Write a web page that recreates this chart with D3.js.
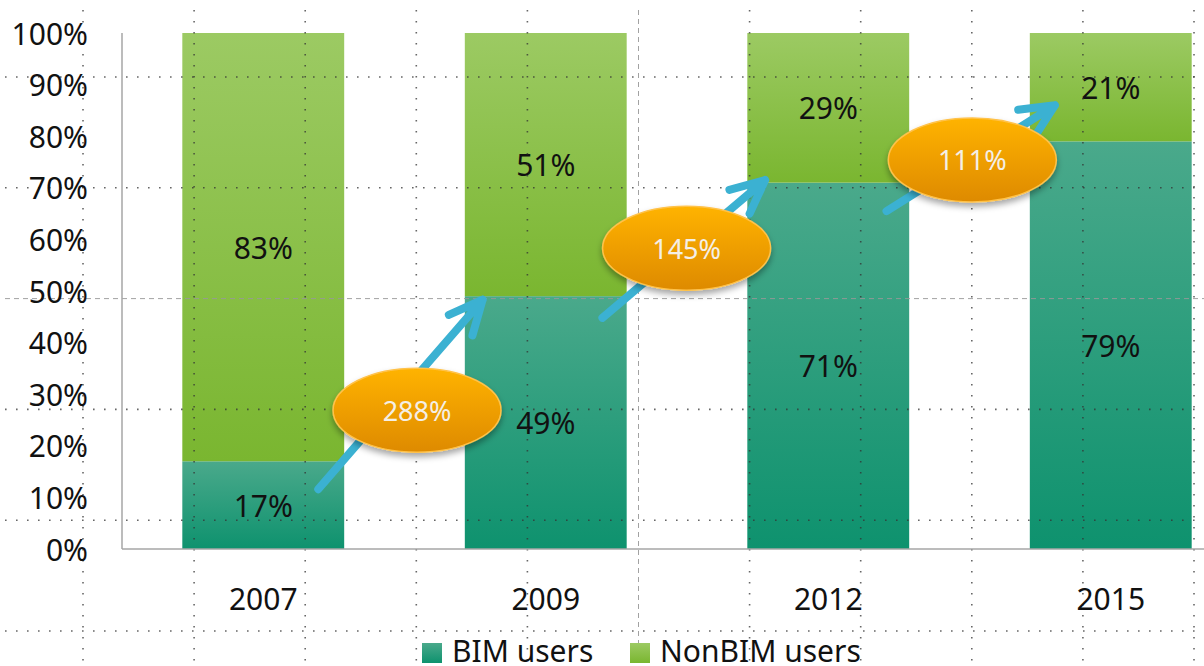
<!DOCTYPE html>
<html>
<head>
<meta charset="utf-8">
<script src="https://cdn.jsdelivr.net/npm/d3@7/dist/d3.min.js"></script>
<style>
  body { margin: 0; background: #fff; }
  text { font-family: "Noto Sans", sans-serif; }
</style>
</head>
<body>
<div id="chart"></div>
<script>
// data
var years = ["2007", "2009", "2012", "2015"];
var bimUsers = [17, 49, 71, 79];
var nonBimUsers = [83, 51, 29, 21];
var yTicks = [0, 10, 20, 30, 40, 50, 60, 70, 80, 90, 100];
var seriesNames = ["BIM users", "NonBIM users"];

// growth annotations (arrow from one year to the next, in data units)
var growthLabels = ["288%", "145%", "111%"];
var arrowFrom = [{ year: "2007", f: 0.84, v: 11.6 }, { year: "2009", f: 0.85, v: 44.8 }, { year: "2012", f: 0.86, v: 65.5 }];
var arrowTo = [{ year: "2009", f: 0.11, v: 48.3 }, { year: "2012", f: 0.11, v: 71.5 }, { year: "2015", f: 0.155, v: 86.0 }];
var ovalAt = [{ year: "2007", f: 1.45, v: 26.9 }, { year: "2009", f: 1.37, v: 58.3 }, { year: "2012", f: 1.39, v: 75.4 }];

var svgWidth = 1204;
var svgHeight = 666;

var svg = d3.select("#chart")
  .append("svg")
  .attr("width", svgWidth)
  .attr("height", svgHeight);

var defs = svg.append("defs");

function vGrad(id, top, bottom) {
  var g = defs.append("linearGradient")
    .attr("id", id)
    .attr("x1", 0).attr("y1", 0).attr("x2", 0).attr("y2", 1);
  g.append("stop").attr("offset", "0%").attr("stop-color", top);
  g.append("stop").attr("offset", "100%").attr("stop-color", bottom);
}
vGrad("gBim", "#4aa98b", "#0e926e");
vGrad("gNon", "#9cca63", "#7ab630");
vGrad("gOval", "#ffb300", "#de8a00");

var shadow = defs.append("filter").attr("id", "shadow")
  .attr("x", "-20%").attr("y", "-20%").attr("width", "140%").attr("height", "160%");
shadow.append("feDropShadow")
  .attr("dx", 0).attr("dy", 4).attr("stdDeviation", 3)
  .attr("flood-color", "#000").attr("flood-opacity", 0.35);

// scales
var x = d3.scaleBand()
  .domain(years)
  .range([122, 1252])
  .paddingInner(0.427)
  .paddingOuter(0.2135);

var y = d3.scaleLinear()
  .domain([0, 100])
  .range([549, 33]);

var colors = ["url(#gBim)", "url(#gNon)"];

// stacked segments
var rows = years.map(function(yr, i) {
  return { year: yr, bim: bimUsers[i], non: nonBimUsers[i] };
});
var stack = d3.stack().keys(["bim", "non"])(rows);

var barGroup = svg.append("g");
stack.forEach(function(layer, li) {
  barGroup.selectAll(".seg" + li)
    .data(layer)
    .enter()
    .append("rect")
    .attr("x", d => x(d.data.year))
    .attr("y", d => y(d[1]))
    .attr("width", x.bandwidth())
    .attr("height", d => y(d[0]) - y(d[1]))
    .attr("fill", colors[li]);
});

// segment labels
stack.forEach(function(layer) {
  barGroup.selectAll(null)
    .data(layer)
    .enter()
    .append("text")
    .attr("x", d => x(d.data.year) + x.bandwidth() / 2)
    .attr("y", d => y((d[0] + d[1]) / 2))
    .attr("text-anchor", "middle")
    .attr("dominant-baseline", "central")
    .style("font-size", "30px")
    .attr("fill", "#111")
    .text(d => (d[1] - d[0]) + "%");
});

// slide guide grid (dotted), drawn on top like the reference
var guides = svg.append("g").attr("pointer-events", "none");
var gx = d3.range(83, 1204, 111.1);
var gy = d3.range(77, 666, 110.8);
gx.forEach(function(v, i) {
  var center = i === 5;
  guides.append("line")
    .attr("x1", v).attr("x2", v)
    .attr("y1", 10).attr("y2", 666)
    .attr("stroke", center ? "#999" : "#333")
    .attr("stroke-width", center ? 1 : 1.6)
    .attr("stroke-dasharray", center ? "5,4" : "1.6,9.4")
    .attr("opacity", center ? 0.9 : 0.75);
});
gy.forEach(function(v, i) {
  var center = i === 2;
  guides.append("line")
    .attr("x1", 5).attr("x2", 1204)
    .attr("y1", v).attr("y2", v)
    .attr("stroke", center ? "#999" : "#333")
    .attr("stroke-width", center ? 1 : 1.6)
    .attr("stroke-dasharray", center ? "5,4" : "1.6,9.4")
    .attr("opacity", center ? 0.9 : 0.75);
});

// axes lines
svg.append("line")
  .attr("x1", 122).attr("x2", 122)
  .attr("y1", y(100)).attr("y2", y(0))
  .attr("stroke", "#a6a6a6").attr("stroke-width", 1.5);
svg.append("line")
  .attr("x1", 122).attr("x2", svgWidth)
  .attr("y1", y(0)).attr("y2", y(0))
  .attr("stroke", "#a6a6a6").attr("stroke-width", 1.5);

// y labels
svg.append("g").selectAll("text")
  .data(yTicks)
  .enter()
  .append("text")
  .attr("x", 88)
  .attr("y", d => y(d))
  .attr("text-anchor", "end")
  .attr("dominant-baseline", "central")
  .style("font-size", "30px")
  .attr("fill", "#111")
  .text(d => d + "%");

// x labels
svg.append("g").selectAll("text")
  .data(years)
  .enter()
  .append("text")
  .attr("x", d => x(d) + x.bandwidth() / 2)
  .attr("y", 598)
  .attr("text-anchor", "middle")
  .attr("dominant-baseline", "central")
  .style("font-size", "30px")
  .attr("fill", "#111")
  .text(d => d);

// growth arrows + ovals
function px(p) { return x(p.year) + p.f * x.bandwidth(); }
var annot = svg.append("g");
growthLabels.forEach(function(lbl, i) {
  var x0 = px(arrowFrom[i]), y0 = y(arrowFrom[i].v);
  var x1 = px(arrowTo[i]), y1 = y(arrowTo[i].v);
  var ang = Math.atan2(y0 - y1, x0 - x1);
  var len = 37, spread = 25 * Math.PI / 180;
  var a1 = [x1 + len * Math.cos(ang + spread), y1 + len * Math.sin(ang + spread)];
  var a2 = [x1 + len * Math.cos(ang - spread), y1 + len * Math.sin(ang - spread)];
  var path = d3.path();
  path.moveTo(x0, y0); path.lineTo(x1, y1);
  path.moveTo(a1[0], a1[1]); path.lineTo(x1, y1); path.lineTo(a2[0], a2[1]);
  annot.append("path")
    .attr("d", path.toString())
    .attr("fill", "none")
    .attr("stroke", "#3bb1d2")
    .attr("stroke-width", 8)
    .attr("stroke-linecap", "round")
    .attr("stroke-linejoin", "round");

  var cx = px(ovalAt[i]), cy = y(ovalAt[i].v);
  annot.append("ellipse")
    .attr("cx", cx).attr("cy", cy)
    .attr("rx", 84).attr("ry", 42)
    .attr("fill", "url(#gOval)")
    .attr("stroke", "#ffc24a")
    .attr("stroke-width", 1.5)
    .attr("filter", "url(#shadow)");
  annot.append("text")
    .attr("x", cx).attr("y", cy)
    .attr("text-anchor", "middle")
    .attr("dominant-baseline", "central")
    .style("font-size", "27px")
    .attr("fill", "#f4efe6")
    .text(lbl);
});

// legend
var legend = svg.append("g");
var legendX = [422, 630];
seriesNames.forEach(function(name, i) {
  legend.append("rect")
    .attr("x", legendX[i]).attr("y", 643)
    .attr("width", 20).attr("height", 20)
    .attr("fill", colors[i]);
  legend.append("text")
    .attr("x", legendX[i] + 30).attr("y", 650)
    .attr("dominant-baseline", "central")
    .style("font-size", "30px")
    .attr("fill", "#111")
    .text(name);
});
</script>
</body>
</html>
